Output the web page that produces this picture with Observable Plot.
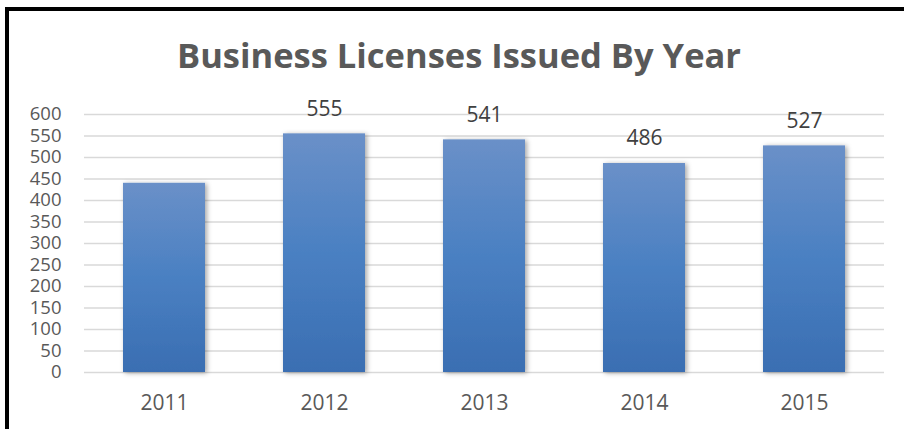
<!DOCTYPE html>
<html>
<head>
<meta charset="utf-8">
<script src="https://cdn.jsdelivr.net/npm/d3@7"></script>
<script src="https://cdn.jsdelivr.net/npm/@observablehq/plot@0.6"></script>
<style>
  html, body { margin: 0; padding: 0; background: #fff; overflow: hidden; width: 904px; height: 429px; }
  #frame { position: absolute; left: 5px; top: 7px; width: 1000px; height: 1000px;
           border-left: 4px solid #000; border-top: 4px solid #000; }
  #title { position: absolute; left: 0; top: 38px; width: 918px; text-align: center;
           font-family: "Open Sans", sans-serif; font-weight: 700; font-size: 34.5px;
           line-height: 34.5px; color: #595959; white-space: nowrap; }
  #chart { position: absolute; left: 0; top: 0; }
</style>
</head>
<body>
<div id="frame"></div>
<div id="title">Business Licenses Issued By Year</div>
<div id="chart"></div>
<script>
const years = ["2011", "2012", "2013", "2014", "2015"];
const licenses = [440, 555, 541, 486, 527];
const valueLabels = [null, "555", "541", "486", "527"];
const yTicks = [0, 50, 100, 150, 200, 250, 300, 350, 400, 450, 500, 550, 600];

const data = years.map((year, i) => ({ year, value: licenses[i], label: valueLabels[i] }));

const svg = Plot.plot({
  width: 904,
  height: 429,
  marginTop: 114,
  marginBottom: 57,
  marginLeft: 84,
  marginRight: 20,
  style: { fontFamily: "Open Sans, sans-serif", color: "#595959", background: "transparent", overflow: "visible" },
  x: { domain: years, paddingInner: 0.49, paddingOuter: 0.245, label: null },
  y: { domain: [0, 600], label: null },
  marks: [
    Plot.ruleY(yTicks, { stroke: "#d9d9d9", strokeWidth: 1.6 }),
    Plot.barY(data, { x: "year", y: "value", fill: "#4a7ebf" }),
    Plot.text(data.filter(d => d.label), { x: "year", y: "value", text: "label", dy: -25, fontSize: 21, fill: "#404040" }),
    Plot.axisY(yTicks, { tickSize: 0, tickPadding: 23, fontSize: 18.5, fill: "#595959" }),
    Plot.axisX({ tickSize: 0, tickPadding: 23, fontSize: 21, fill: "#595959" })
  ]
});

const s = d3.select(svg);
const defs = s.insert("defs", ":first-child");
const grad = defs.append("linearGradient").attr("id", "barGradient")
  .attr("x1", 0).attr("y1", 0).attr("x2", 0).attr("y2", 1);
grad.append("stop").attr("offset", "0%").attr("stop-color", "#6a90c8");
grad.append("stop").attr("offset", "50%").attr("stop-color", "#4a80c2");
grad.append("stop").attr("offset", "100%").attr("stop-color", "#3a6eb2");
const filt = defs.append("filter").attr("id", "barShadow")
  .attr("x", "-20%").attr("y", "-10%").attr("width", "150%").attr("height", "130%");
filt.append("feDropShadow").attr("dx", 2).attr("dy", 1).attr("stdDeviation", 2.5)
  .attr("flood-color", "#000").attr("flood-opacity", 0.35);
s.selectAll("g[aria-label='bar']").attr("fill", "url(#barGradient)");
s.selectAll("g[aria-label='bar'] rect").attr("filter", "url(#barShadow)");

document.getElementById("chart").appendChild(svg);
</script>
</body>
</html>
